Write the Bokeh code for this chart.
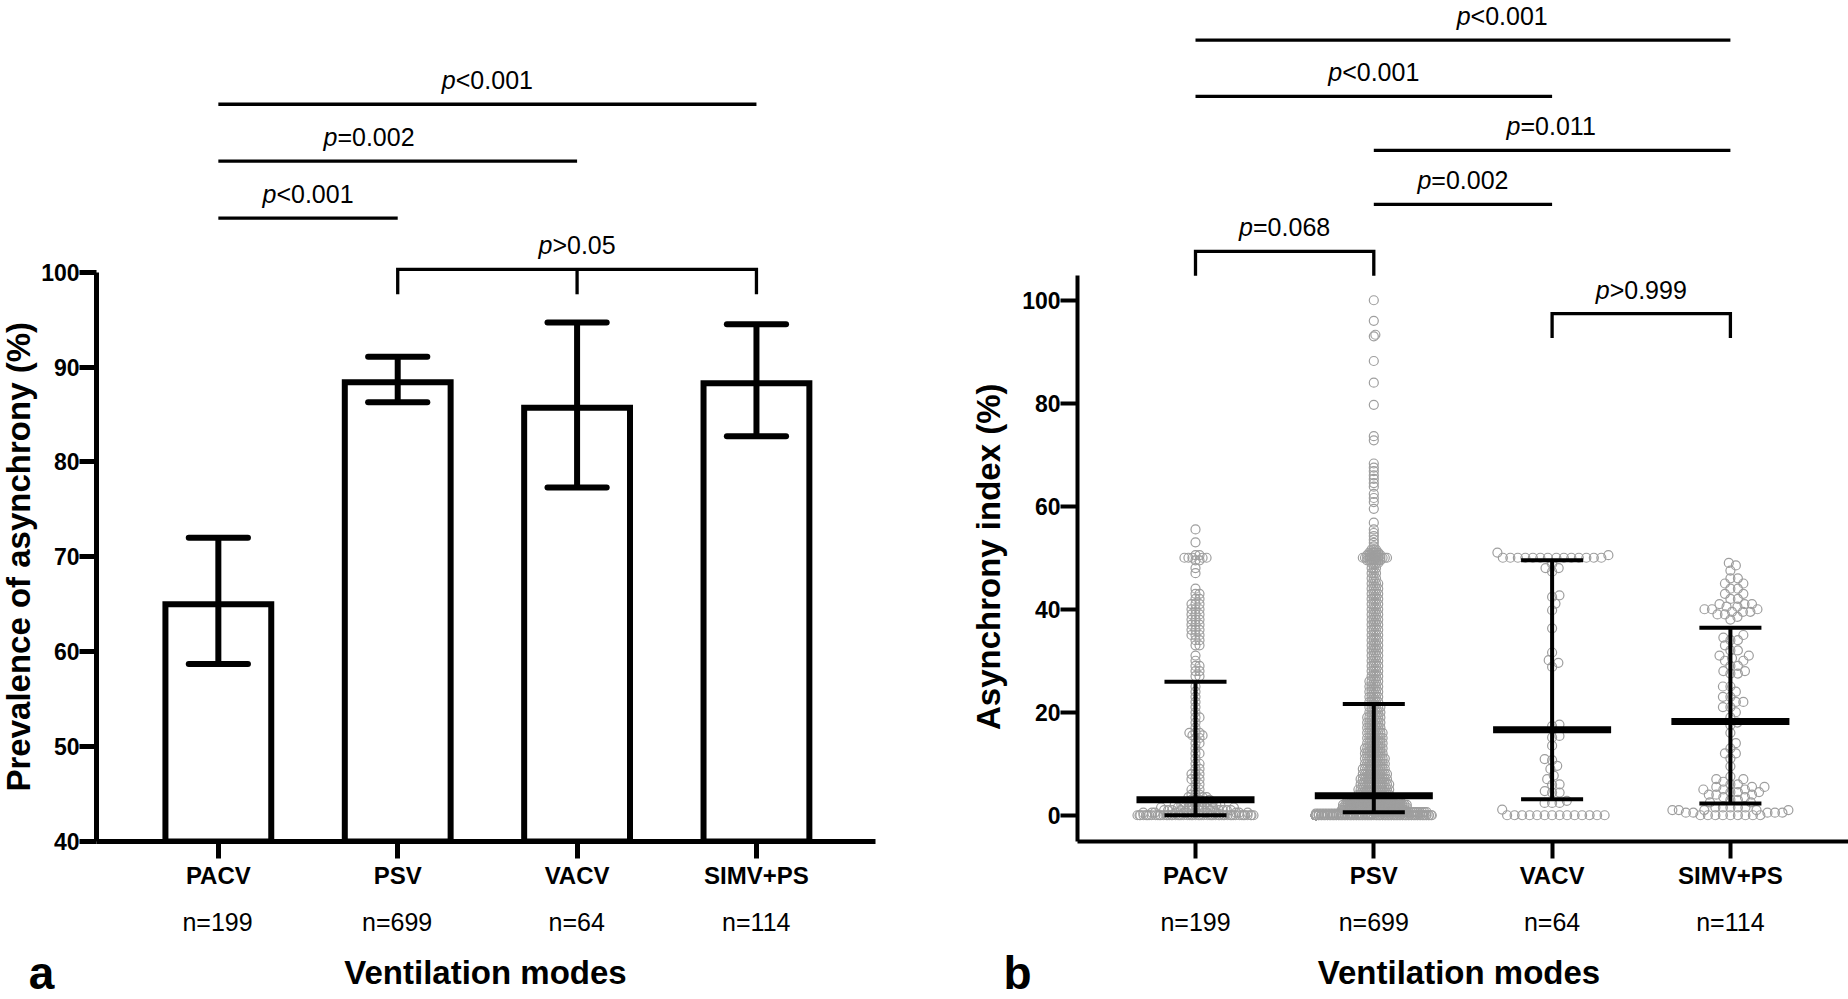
import numpy as np
from bokeh.plotting import figure
from bokeh.models import Range1d, FixedTicker, ColumnDataSource
from bokeh.layouts import row, column
from bokeh.core.properties import value
from bokeh.embed import file_html
from bokeh.resources import INLINE

# ---------------------------------------------------------------- data
categories = ["PACV", "PSV", "VACV", "SIMV+PS"]
n_labels = ["n=199", "n=699", "n=64", "n=114"]
x_title = "Ventilation modes"
y_title_a = "Prevalence of asynchrony (%)"
y_title_b = "Asynchrony index (%)"
panel_letters = ["a", "b"]

# panel a: prevalence with 95% CI
prevalence = [65.0, 88.4, 85.7, 88.3]
prevalence_low = [58.7, 86.3, 77.3, 82.7]
prevalence_high = [72.0, 91.1, 94.7, 94.5]
ticks_a = [40, 50, 60, 70, 80, 90, 100]

# panel b: median and IQR
ai_median = [3.0, 3.8, 16.6, 18.2]
ai_q1 = [0.0, 0.6, 3.1, 2.3]
ai_q3 = [25.9, 21.6, 49.5, 36.4]
ticks_b = [0, 20, 40, 60, 80, 100]

# panel b: individual asynchrony indices (value, count)
pacv_values = [0, 0.5, 1.0, 1.5, 2.0, 2.5,
               3.0, 3.5, 4, 5, 6, 7, 8, 9, 10, 11, 12, 13, 14, 15, 15.5, 16, 17, 18, 19, 20, 21, 22, 23, 24, 25,
               27, 28, 29, 30, 31,
               33, 34, 35, 36, 37, 38, 39, 40, 41, 42, 43, 44,
               47, 48, 49.5, 50, 50.5, 53, 55.5]
pacv_counts = [55, 12, 12, 8, 8, 5,
               4, 3, 3, 3, 2, 3, 3, 2, 2, 1, 2, 1, 2, 2, 2, 3, 1, 1, 2, 1, 1, 1, 1, 1, 1,
               2, 2, 2, 1, 1,
               2, 2, 3, 3, 3, 3, 3, 3, 3, 2, 2, 1,
               1, 1, 2, 5, 2, 1, 1]

psv_values = [0, 0.3, 0.6, 1.0, 1.5, 2.0, 2.5, 3.0, 3.5,
              4, 5, 6, 7, 8, 9, 10, 11, 12, 13, 14, 15, 16, 17, 18, 19, 20, 21,
              22, 23, 24, 25, 26, 27, 28, 29, 30, 31, 32, 33, 34, 35, 36, 37, 38, 39, 40,
              41, 42, 43, 44, 45, 46, 47, 48,
              49, 49.5, 50, 50.5, 51, 51.6,
              52.2, 52.9, 53.5, 54.2, 54.8, 55.5, 56.8, 59.5, 60.8, 61.6, 62.4, 63.8, 64.5,
              65.3, 66.0, 66.8, 67.5, 68.3, 72.8, 73.6, 79.7, 84.0, 88.2, 93.0, 93.3, 96.0, 100.0]
psv_counts = [150, 20, 25, 30, 30, 30, 25, 25, 14,
              15, 15, 14, 13, 12, 11, 10, 10, 9, 9, 8, 8, 8, 7, 7, 7, 6, 6,
              5, 5, 5, 5, 5, 4, 4, 4, 4, 4, 4, 4, 4, 4, 4, 4, 4, 4, 4,
              4, 4, 4, 4, 4, 3, 3, 3,
              4, 7, 12, 7, 5, 3,
              1, 1, 1, 1, 1, 1, 1, 1, 1, 1, 1, 1, 1,
              1, 1, 1, 1, 1, 1, 1, 1, 1, 1, 1, 1, 1, 1]

vacv_values = [0, 1.1, 2.4, 2.8, 4.4, 4.7, 5.9, 6.0, 7.0, 7.7, 9.0, 9.6, 10.7, 10.9, 13.5, 15.1, 15.4,
               17.3, 17.6, 28.8, 29.6, 30.1, 31.6, 36.3, 39.8, 41.1, 42.4, 42.7, 47.3, 48.0, 48.8,
               50.0, 50.5, 51.0]
vacv_counts = [14, 1, 3, 1, 2, 1, 1, 1, 1, 1, 1, 1, 1, 1, 1, 1, 1,
               1, 1, 1, 1, 1, 1, 1, 1, 1, 1, 1, 1, 2, 1,
               14, 1, 1]

simv_values = [0, 0.5, 1.0, 1.5, 2.5,
               3.0, 3.5, 4.0, 4.5, 5.0, 5.5, 6.0, 6.5, 7.0, 7.5,
               9.5, 11, 12, 13, 14, 16,
               17.5, 18, 19, 20, 21, 22, 23, 24, 25,
               27.5, 28, 29, 30, 30.5, 31, 32, 33, 34, 34.5, 35,
               38, 38.5, 39, 39.5, 40, 40.5, 41, 42, 43, 44, 45, 46, 47.5, 48.5, 49]
simv_counts = [9, 5, 5, 5, 2,
               2, 2, 3, 3, 3, 3, 2, 1, 2, 1,
               1, 1, 2, 1, 1, 1,
               1, 1, 1, 1, 2, 2, 2, 1, 2,
               2, 2, 2, 2, 1, 2, 2, 1, 2, 1, 1,
               1, 1, 2, 3, 3, 2, 3, 2, 2, 2, 2, 2, 1, 1, 1]

group_values = [pacv_values, psv_values, vacv_values, simv_values]
group_counts = [pacv_counts, psv_counts, vacv_counts, simv_counts]

# significance comparisons
sig_a_lines = [(0, 3, "<0.001"), (0, 2, "=0.002"), (0, 1, "<0.001")]
sig_a_bracket = ([1, 2, 3], ">0.05")
sig_b_lines = [(0, 3, "<0.001"), (0, 2, "<0.001"), (1, 3, "=0.011"), (1, 2, "=0.002")]
sig_b_brackets = [([0, 1], "=0.068"), ([2, 3], ">0.999")]

# ---------------------------------------------------------------- layout / style
FONT = "Liberation Sans"
GREY = "#9e9e9e"
H_TOP, H_BOT = 892, 106
TA_W, PA_W, TB_W, PB_W = 38, 886, 86, 838          # page x: 0-38, 38-924, 924-1010, 1010-1848
A_FL, A_FR, A_X0, A_DX, A_YB, A_PPU = 95, 875, 217.0, 179.6, 842.0, 9.5
B_FL, B_FR, B_X0, B_DX, B_YB, B_PPU, B_YMIN = 1077, 1848, 1195.0, 178.3, 841.0, 5.15, -5.1
PA_LEFT = TA_W
PB_LEFT = TA_W + PA_W + TB_W

sig_a_levels = [117.7, 111.7, 105.7]
sig_a_text_x = [1.5, 0.84, 0.5]
sig_a_bracket_level, sig_a_leg = 100.3, 2.63
sig_b_levels = [150.5, 139.6, 129.1, 118.6]
sig_b_text_x = [1.72, 1.0, 2.0, 1.5]
sig_b_bracket_levels = [109.5, 97.4]
sig_b_leg = 4.75
TEXT_GAP_PX = 24.0          # line to text centre
P_FS = 25
ROT_FIX = 33.0              # compensation for rotated-text placement

def xa(px): return (px - A_X0) / A_DX
def ya(py): return 40 + (A_YB - py) / A_PPU
def xb(px): return (px - B_X0) / B_DX
def yb(py): return B_YMIN + (B_YB - py) / B_PPU

WID = {c: 0.556 for c in "0123456789"}
WID.update({".": 0.278, "<": 0.584, ">": 0.584, "=": 0.584})

def add_p_texts(p, xs, ys, rests, fs=P_FS):
    offs = []
    for r in rests:
        wp = 0.556 * fs
        wr = sum(WID[c] for c in r) * fs
        offs.append(-(wr - wp) / 2.0)
    src = ColumnDataSource(dict(x=xs, y=ys, rest=rests, p=["p"] * len(rests), off=offs))
    p.text(x="x", y="y", text="p", x_offset="off", source=src, text_font=value(FONT),
           text_font_size=value(f"{fs}px"), text_font_style="italic", text_align="right",
           text_baseline="middle", text_color="black")
    p.text(x="x", y="y", text="rest", x_offset="off", source=src, text_font=value(FONT),
           text_font_size=value(f"{fs}px"), text_align="left",
           text_baseline="middle", text_color="black")

def plain_fig(w, h, xr, yr):
    f = figure(width=w, height=h, output_backend="svg", toolbar_location=None,
               x_range=xr, y_range=yr, x_axis_type=None, y_axis_type=None,
               min_border=0, min_border_left=0, min_border_right=0,
               min_border_top=0, min_border_bottom=0)
    f.xgrid.visible = False
    f.ygrid.visible = False
    f.outline_line_color = None
    f.background_fill_color = "white"
    f.border_fill_color = "white"
    return f

def style_fig(p, ticks, bounds, axw):
    p.xgrid.visible = False
    p.ygrid.visible = False
    p.outline_line_color = None
    p.background_fill_color = "white"
    p.border_fill_color = "white"
    for ax in (p.xaxis[0], p.yaxis[0]):
        ax.axis_line_width = axw
        ax.axis_line_color = "black"
        ax.major_tick_line_width = axw
        ax.major_tick_line_color = "black"
        ax.major_tick_out = 17
        ax.major_tick_in = 0
        ax.minor_tick_out = 0
        ax.minor_tick_in = 0
        ax.major_label_text_font = FONT
        ax.major_label_text_font_style = "bold"
        ax.major_label_text_color = "black"
        ax.major_label_text_font_size = "23px"
    p.xaxis[0].ticker = FixedTicker(ticks=list(range(len(categories))))
    p.xaxis[0].major_label_overrides = {i: c for i, c in enumerate(categories)}
    p.xaxis[0].major_label_text_font_size = "24px"
    p.xaxis[0].major_label_standoff = 3
    p.yaxis[0].ticker = FixedTicker(ticks=ticks)
    p.yaxis[0].bounds = bounds
    p.yaxis[0].major_label_standoff = 0

cat_x = np.arange(len(categories), dtype=float)

# ---------------------------------------------------------------- panel a
pa = figure(width=PA_W, height=H_TOP, output_backend="svg", toolbar_location=None,
            x_range=Range1d(xa(A_FL), xa(A_FR)), y_range=Range1d(40, ya(0)),
            min_border_left=A_FL - PA_LEFT, min_border_right=PA_LEFT + PA_W - A_FR,
            min_border_top=0, min_border_bottom=int(H_TOP - A_YB))
style_fig(pa, ticks_a, (40, 100), 5)

pa.vbar(x=cat_x, top=prevalence, bottom=40, width=0.59, fill_color="white",
        line_color="black", line_width=6, line_join="miter")
pa.segment(x0=cat_x, y0=prevalence_low, x1=cat_x, y1=prevalence_high, line_color="black", line_width=6)
cap = 0.165
pa.segment(x0=cat_x - cap, y0=prevalence_high, x1=cat_x + cap, y1=prevalence_high,
           line_color="black", line_width=6, line_cap="round")
pa.segment(x0=cat_x - cap, y0=prevalence_low, x1=cat_x + cap, y1=prevalence_low,
           line_color="black", line_width=6, line_cap="round")

gap_a = TEXT_GAP_PX / A_PPU
pa.segment(x0=[cat_x[i] for i, j, t in sig_a_lines], y0=sig_a_levels,
           x1=[cat_x[j] for i, j, t in sig_a_lines], y1=sig_a_levels,
           line_color="black", line_width=3.3)
legs, btxt = sig_a_bracket
lvl = sig_a_bracket_level
pa.multi_line(xs=[[cat_x[legs[0]], cat_x[legs[0]], cat_x[legs[-1]], cat_x[legs[-1]]]],
              ys=[[lvl - sig_a_leg, lvl, lvl, lvl - sig_a_leg]], line_color="black",
              line_width=3.3, line_join="miter")
mid_legs = [cat_x[k] for k in legs[1:-1]]
pa.segment(x0=mid_legs, y0=[lvl] * len(mid_legs), x1=mid_legs, y1=[lvl - sig_a_leg] * len(mid_legs),
           line_color="black", line_width=3.3)
add_p_texts(pa,
            sig_a_text_x + [(cat_x[legs[0]] + cat_x[legs[-1]]) / 2],
            [l + gap_a for l in sig_a_levels] + [lvl + gap_a],
            [t for i, j, t in sig_a_lines] + [btxt])

# ---------------------------------------------------------------- panel b
def swarm_offsets(vals, ppu, diam, half_width):
    ys = np.asarray(vals, float) * ppu
    order = np.argsort(ys, kind="stable")
    px = np.empty(0)
    py = np.empty(0)
    offs = np.zeros(len(ys))
    grid = np.linspace(-half_width, half_width, 41)
    for i in order:
        y = ys[i]
        m = np.abs(py - y) < diam
        nx, ny = px[m], py[m]
        x = 0.0
        if nx.size:
            dy2 = (ny - y) ** 2
            dx = np.sqrt(np.maximum(diam ** 2 - dy2, 0.0))
            cands = np.concatenate([[0.0], nx + dx, nx - dx])
            cands = cands[np.abs(cands) <= half_width + 1e-9]
            cands = cands[np.argsort(np.abs(cands), kind="stable")]
            chosen = None
            if cands.size:
                d2 = (cands[:, None] - nx[None, :]) ** 2 + dy2[None, :]
                good = np.all(d2 >= diam ** 2 - 1e-6, axis=1)
                if good.any():
                    chosen = cands[np.argmax(good)]
            if chosen is None:
                d2 = (grid[:, None] - nx[None, :]) ** 2 + dy2[None, :]
                chosen = grid[np.argmax(d2.min(axis=1))]
            x = chosen
        offs[i] = x
        px = np.append(px, x)
        py = np.append(py, y)
    return offs

swarm_diam = [4.0, 2.2, 7.5, 7.5]
pb = figure(width=PB_W, height=H_TOP, output_backend="svg", toolbar_location=None,
            x_range=Range1d(xb(B_FL), xb(B_FR)), y_range=Range1d(B_YMIN, yb(0)),
            min_border_left=B_FL - PB_LEFT, min_border_right=PB_LEFT + PB_W - B_FR,
            min_border_top=0, min_border_bottom=int(H_TOP - B_YB))
style_fig(pb, ticks_b, (B_YMIN, 104.9), 4)

px_all, py_all = [], []
for g, (vals, cnts) in enumerate(zip(group_values, group_counts)):
    v = np.repeat(np.asarray(vals, float), cnts)
    offs = swarm_offsets(v, B_PPU, swarm_diam[g], 58.0)
    px_all.append(cat_x[g] + offs / B_DX)
    py_all.append(v)
src = ColumnDataSource(dict(x=np.concatenate(px_all), y=np.concatenate(py_all)))
pb.scatter(x="x", y="y", source=src, marker="circle", size=9, fill_color=None,
           line_color=GREY, line_width=1.2)

pb.segment(x0=cat_x, y0=ai_q1, x1=cat_x, y1=ai_q3, line_color="black", line_width=4)
cb = 0.174
pb.segment(x0=cat_x - cb, y0=ai_q1, x1=cat_x + cb, y1=ai_q1, line_color="black", line_width=4)
pb.segment(x0=cat_x - cb, y0=ai_q3, x1=cat_x + cb, y1=ai_q3, line_color="black", line_width=4)
mb = 0.331
pb.segment(x0=cat_x - mb, y0=ai_median, x1=cat_x + mb, y1=ai_median, line_color="black", line_width=7)

gap_b = TEXT_GAP_PX / B_PPU
pb.segment(x0=[cat_x[i] for i, j, t in sig_b_lines], y0=sig_b_levels,
           x1=[cat_x[j] for i, j, t in sig_b_lines], y1=sig_b_levels,
           line_color="black", line_width=3.3)
bx, by, bt = [], [], []
for (legs, t), lvl in zip(sig_b_brackets, sig_b_bracket_levels):
    pb.multi_line(xs=[[cat_x[legs[0]], cat_x[legs[0]], cat_x[legs[-1]], cat_x[legs[-1]]]],
                  ys=[[lvl - sig_b_leg, lvl, lvl, lvl - sig_b_leg]], line_color="black",
                  line_width=3.3, line_join="miter")
    bx.append((cat_x[legs[0]] + cat_x[legs[-1]]) / 2)
    by.append(lvl + gap_b)
    bt.append(t)
add_p_texts(pb, sig_b_text_x + bx, [l + gap_b for l in sig_b_levels] + by,
            [t for i, j, t in sig_b_lines] + bt)

# ---------------------------------------------------------------- titles (left of each panel)
ta = plain_fig(TA_W, H_TOP, Range1d(0, TA_W), Range1d(0, H_TOP))
ta.text(x=[18.0], y=[H_TOP - (557.0 + ROT_FIX)], text=[y_title_a], angle=np.pi / 2,
        text_font=value(FONT), text_font_size=value("33px"), text_font_style="bold",
        text_align="center", text_baseline="middle", text_color="black")
tb = plain_fig(TB_W, H_TOP, Range1d(0, TB_W), Range1d(0, H_TOP))
tb.text(x=[988.0 - (TA_W + PA_W)], y=[H_TOP - (557.0 + ROT_FIX)], text=[y_title_b], angle=np.pi / 2,
        text_font=value(FONT), text_font_size=value("33px"), text_font_style="bold",
        text_align="center", text_baseline="middle", text_color="black")

# ---------------------------------------------------------------- bottom texts
def bottom_fig(w, x0_page, xfun):
    return plain_fig(w, H_BOT, Range1d(xfun(x0_page), xfun(x0_page + w)), Range1d(0, H_BOT))

def by_(page_y): return H_TOP + H_BOT - page_y

ba = bottom_fig(TA_W + PA_W, 0, xa)
bb = bottom_fig(TB_W + PB_W, TA_W + PA_W, xb)
for f, xfun, (fl, fr), letter, lx in ((ba, xa, (A_FL, A_FR), panel_letters[0], 41),
                                       (bb, xb, (B_FL, 1840), panel_letters[1], 1017)):
    f.text(x=cat_x, y=[by_(921)] * 4, text=n_labels, text_font=value(FONT),
           text_font_size=value("25px"), text_align="center", text_baseline="middle",
           text_color="black")
    f.text(x=[xfun((fl + fr) / 2)], y=[by_(972)], text=[x_title], text_font=value(FONT),
           text_font_size=value("33px"), text_font_style="bold", text_align="center",
           text_baseline="middle", text_color="black")
    f.text(x=[xfun(lx)], y=[by_(972)], text=[letter], text_font=value(FONT),
           text_font_size=value("46px"), text_font_style="bold", text_align="center",
           text_baseline="middle", text_color="black")

layout = column(row(ta, pa, tb, pb), row(ba, bb))
open("out.html", "w").write(file_html(layout, INLINE))
